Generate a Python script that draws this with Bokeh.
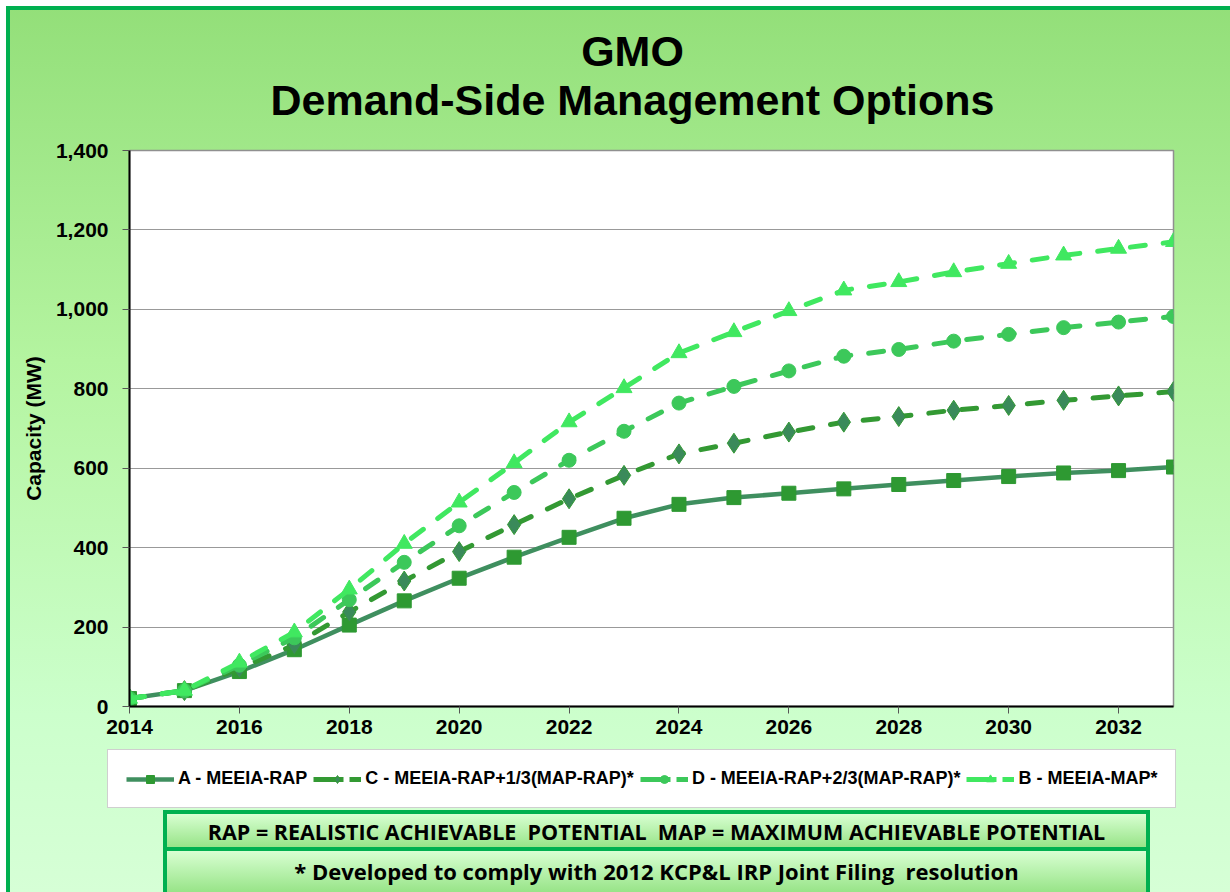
from bokeh.plotting import figure
from bokeh.models import (Legend, LegendItem, NumeralTickFormatter, FixedTicker,
                          Range1d, Div)
from bokeh.layouts import column
from bokeh.embed import file_html
from bokeh.resources import INLINE

# ---- data ----
years = list(range(2014, 2034))
rap = [20, 40, 88, 143, 205, 266, 323, 376, 426, 474, 509, 526, 537, 548, 559, 569, 579, 588, 594, 603]
rap_third = [20, 40, 96, 155, 238, 316, 390, 458, 523, 582, 636, 663, 691, 716, 730, 746, 758, 771, 782, 793]
rap_two_third = [20, 40, 104, 173, 269, 363, 455, 539, 620, 693, 764, 806, 845, 882, 899, 920, 937, 954, 968, 982]
map_ = [20, 40, 111, 187, 295, 410, 514, 613, 716, 802, 890, 943, 996, 1048, 1069, 1094, 1115, 1136, 1153, 1170]

series_labels = ["A - MEEIA-RAP", "C - MEEIA-RAP+1/3(MAP-RAP)*",
                 "D - MEEIA-RAP+2/3(MAP-RAP)*", "B - MEEIA-MAP*"]
x_ticks = list(range(2014, 2033, 2))
y_ticks = list(range(0, 1401, 200))
title_line1 = "GMO"
title_line2 = "Demand-Side Management Options"
note1 = "RAP = REALISTIC ACHIEVABLE&nbsp; POTENTIAL&nbsp; MAP = MAXIMUM ACHIEVABLE POTENTIAL"
note2 = "* Developed to comply with 2012 KCP&amp;L IRP Joint Filing&nbsp; resolution"

FONT = "Liberation Sans"

styles = [
    dict(line_color="#3f8f5f", line_width=4.5, line_dash="solid",
         marker="square", size=14, fill_color="#2e9932", mline="#2e9932"),
    dict(line_color="#339933", line_width=5, line_dash="15 18",
         marker="diamond", size=20, fill_color="#3a8a5a", mline="#339933"),
    dict(line_color="#3cc85a", line_width=5, line_dash="15 18",
         marker="circle", size=14, fill_color="#3cc85a", mline="#3cc85a"),
    dict(line_color="#40e860", line_width=5, line_dash="15 18",
         marker="triangle", size=16, fill_color="#40e860", mline="#40e860"),
]
series_values = [rap, rap_third, rap_two_third, map_]

# ---- title block ----
title_div = Div(text=title_line1 + "<br>" + title_line2, width=1230, height=126,
                margin=(0, 0, 0, 0),
                styles={"box-sizing": "border-box", "padding-top": "27px", "padding-left": "35px",
                        "text-align": "center", "font-family": FONT, "font-weight": "bold",
                        "font-size": "43px", "line-height": "49px", "color": "black",
                        "white-space": "nowrap"})

# ---- main chart ----
p = figure(width=1230, height=619, title=None,
           x_range=Range1d(2014, 2033), y_range=Range1d(0, 1400),
           output_backend="svg", toolbar_location=None,
           min_border_left=129, min_border_right=57, min_border_top=24, min_border_bottom=39)
p.frame_align = False
p.border_fill_color = None
p.background_fill_color = "white"
p.outline_line_color = "#909090"
p.outline_line_width = 1.5

p.xaxis.ticker = FixedTicker(ticks=x_ticks)
p.yaxis.ticker = FixedTicker(ticks=y_ticks)
p.yaxis.formatter = NumeralTickFormatter(format="0,0")
for ax in (p.xaxis[0], p.yaxis[0]):
    ax.major_label_text_font = FONT
    ax.major_label_text_font_size = "21px"
    ax.major_label_text_font_style = "bold"
    ax.major_label_text_color = "black"
    ax.axis_line_color = "black"
    ax.axis_line_width = 2
    ax.major_tick_line_color = "#555555"
    ax.major_tick_in = 0
    ax.major_tick_out = 7
    ax.minor_tick_line_color = None
p.xaxis.major_label_standoff = 6
p.yaxis.major_label_standoff = 14
p.yaxis.axis_label = "Capacity (MW)"
p.yaxis.axis_label_text_font = FONT
p.yaxis.axis_label_text_font_size = "21px"
p.yaxis.axis_label_text_font_style = "bold"
p.yaxis.axis_label_text_color = "black"
p.yaxis.axis_label_standoff = 8

p.xgrid.grid_line_color = None
p.ygrid.grid_line_color = "#999999"
p.ygrid.grid_line_width = 1

for vals, st in zip(series_values, styles):
    p.line(years, vals, line_color=st["line_color"], line_width=st["line_width"],
           line_dash=st["line_dash"], line_cap="round")
    p.scatter(years, vals, marker=st["marker"], size=st["size"],
              fill_color=st["fill_color"], line_color=st["mline"])

# ---- legend strip: the same series, outside this strip's view, feed Bokeh's legend ----
lg = figure(width=1230, height=65, x_range=Range1d(0, 1), y_range=Range1d(0, 1),
            output_backend="svg", toolbar_location=None,
            min_border_left=0, min_border_right=0, min_border_top=0, min_border_bottom=0)
lg.frame_align = False
lg.axis.visible = False
lg.grid.visible = False
lg.outline_line_color = None
lg.border_fill_color = None
lg.background_fill_color = None

items = []
for lab, vals, st in zip(series_labels, series_values, styles):
    rl = lg.line(years, vals, line_color=st["line_color"], line_width=st["line_width"],
                 line_dash="solid" if st["line_dash"] == "solid" else "30 6")
    rm = lg.scatter(years, vals, marker=st["marker"], size=st["size"] - 1,
                    fill_color=st["fill_color"], line_color=st["mline"])
    items.append(LegendItem(label=lab, renderers=[rl, rm]))

legend = Legend(items=items, orientation="horizontal", location=(107, 2))
legend.label_text_font = FONT
legend.label_text_font_size = "18px"
legend.label_text_font_style = "bold"
legend.label_text_color = "black"
legend.glyph_width = 48
legend.glyph_height = 20
legend.label_standoff = 4
legend.spacing = 6
legend.padding = 18
legend.margin = 0
legend.border_line_color = "#a0a0a0"
legend.border_line_width = 1.5
legend.background_fill_color = "white"
legend.background_fill_alpha = 1
lg.add_layout(legend, "center")

# ---- note boxes ----
box_common = {
    "background": "linear-gradient(#d8ffd2, #98e488)",
    "border": "4px solid #00b050",
    "box-sizing": "border-box",
    "text-align": "center",
    "font-family": "Open Sans",
    "font-weight": "bold",
    "font-size": "21.5px",
    "color": "black",
    "white-space": "nowrap",
}
s1 = dict(box_common)
s1["line-height"] = "35px"
s2 = dict(box_common)
s2["border-top"] = "none"
s2["border-bottom"] = "none"
s2["line-height"] = "40px"
s2["font-size"] = "22px"

div1 = Div(text=note1, width=987, height=41, margin=(0, 0, 0, 163), styles=s1)
div2 = Div(text=note2, width=987, height=41, margin=(0, 0, 0, 163), styles=s2)

root = column(title_div, p, lg, div1, div2, width=1230, height=892, spacing=0,
              styles={"background":
                      "linear-gradient(#00b050, #00b050) 6px 6px / 4px calc(100% - 6px) no-repeat, "
                      "linear-gradient(#00b050, #00b050) 6px 6px / calc(100% - 6px) 4px no-repeat, "
                      "linear-gradient(#93df79 0%, #b4f4a0 40%, #ccffcc 80%, #d6ffd6 100%) "
                      "6px 6px / calc(100% - 6px) calc(100% - 6px) no-repeat, white"})

open("out.html", "w").write(file_html(root, INLINE))
